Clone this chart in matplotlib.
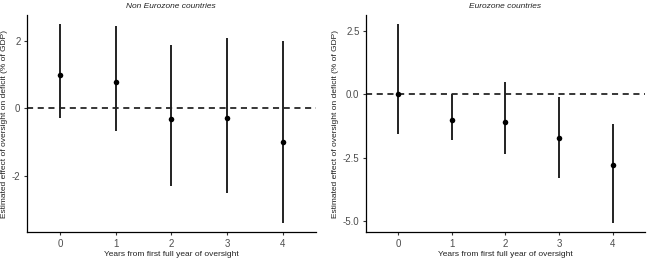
import matplotlib
matplotlib.use("Agg")
import matplotlib.pyplot as plt

plt.rcParams['font.family'] = ['Liberation Sans', 'DejaVu Sans']

years = [0, 1, 2, 3, 4]

non_est = [0.99, 0.78, -0.31, -0.28, -0.99]
non_low = [-0.27, -0.66, -2.28, -2.51, -3.40]
non_high = [2.48, 2.44, 1.87, 2.07, 2.00]

euro_est = [0.00, -1.02, -1.08, -1.71, -2.79]
euro_low = [-1.58, -1.81, -2.35, -3.31, -5.07]
euro_high = [2.77, 0.02, 0.49, -0.12, -1.15]

non_yticks = [-2, 0, 2]
non_yticklabels = ["-2", "0", "2"]
euro_yticks = [-5.0, -2.5, 0.0, 2.5]
euro_yticklabels = ["-5.0", "-2.5", "0.0", "2.5"]

titles = ["Non Eurozone countries", "Eurozone countries"]
xlabel = "Years from first full year of oversight"
ylabel = "Estimated effect of oversight on deficit (% of GDP)"

W, H = 647, 258
fig = plt.figure(figsize=(W / 100, H / 100), dpi=100)

ax1 = fig.add_axes([26.7 / W, 1 - 232.3 / H, (316 - 26.7) / W, (232.3 - 15) / H])
ax2 = fig.add_axes([365.7 / W, 1 - 232.3 / H, (645 - 365.7) / W, (232.3 - 15) / H])

panels = [
    (ax1, non_est, non_low, non_high, non_yticks, non_yticklabels, (-3.66, 2.76)),
    (ax2, euro_est, euro_low, euro_high, euro_yticks, euro_yticklabels, (-5.45, 3.14)),
]

for (ax, est, lo, hi, yt, ytl, ylim), title in zip(panels, titles):
    ax.axhline(0, color="black", linestyle=(0, (4, 3)), linewidth=1.1, zorder=1)
    ax.vlines(years, lo, hi, color="#222222", linewidth=1.4, zorder=2)
    ax.scatter(years, est, s=16, color="black", zorder=3, linewidths=0)
    ax.set_xlim(-0.6, 4.6)
    ax.set_ylim(*ylim)
    ax.set_xticks(years)
    ax.set_xticklabels([str(y) for y in years])
    ax.set_yticks(yt)
    ax.set_yticklabels(ytl)
    for s in ["top", "right"]:
        ax.spines[s].set_visible(False)
    for s in ["left", "bottom"]:
        ax.spines[s].set_linewidth(0.9)
        ax.spines[s].set_color("black")
    ax.tick_params(axis="both", labelsize=7, colors="#333333", length=2.5, width=0.8, pad=2)
    ax.tick_params(axis="both", labelcolor="#4d4d4d")
    ax.set_title(title, fontsize=6.0, style="italic", pad=5, color="#222222")
    ax.set_xlabel(xlabel, fontsize=6.0, labelpad=2, color="#222222")
    ax.set_ylabel(ylabel, fontsize=6.0, labelpad=2.5, color="#222222")

fig.savefig("out.png", dpi=100)
